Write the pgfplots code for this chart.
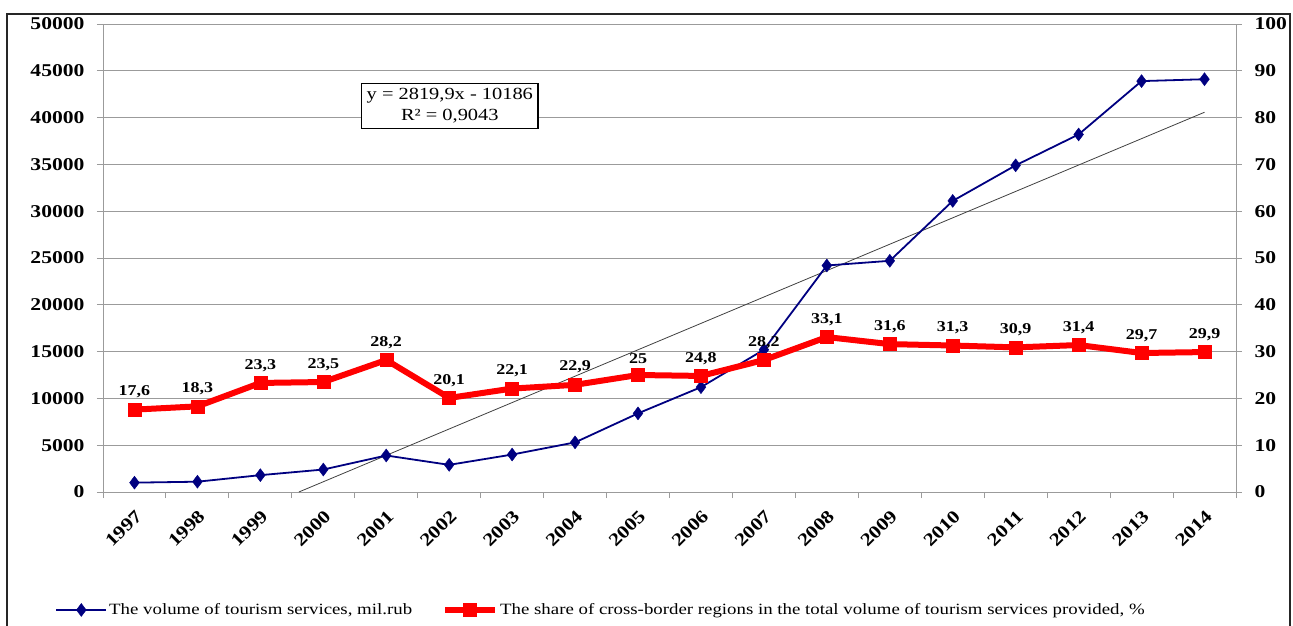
\documentclass[border=0pt]{standalone}
\usepackage{fontspec}
\setmainfont{Liberation Serif}[FakeStretch=1.2]
\usepackage{pgfplots}
\pgfplotsset{compat=1.18}
\usepackage{pgfplotstable}

\definecolor{navyb}{RGB}{0,0,128}
\definecolor{gridg}{RGB}{155,155,155}

\pgfplotstableread{
x y
0 1000
1 1100
2 1800
3 2400
4 3900
5 2900
6 4000
7 5300
8 8400
9 11200
10 15200
11 24200
12 24700
13 31100
14 34900
15 38200
16 43900
17 44100
}\volume

\pgfplotstableread{
x y lab
0 17.6 17,6
1 18.3 18,3
2 23.3 23,3
3 23.5 23,5
4 28.2 28,2
5 20.1 20,1
6 22.1 22,1
7 22.9 22,9
8 25 25
9 24.8 24,8
10 28.2 28,2
11 33.1 33,1
12 31.6 31,6
13 31.3 31,3
14 30.9 30,9
15 31.4 31,4
16 29.7 29,7
17 29.9 29,9
}\share

\pgfplotsset{
  base/.style={
    scale only axis, width=1133bp, height=468bp,
    xmin=-0.5, xmax=17.5,
    tick align=outside,
    major tick length=6bp, minor tick length=6bp,
    axis line style={gridg, line width=0.9bp},
    tick style={gridg, line width=0.9bp},
    /pgf/number format/assume math mode=true,
    scaled ticks=false,
    /pgf/number format/1000 sep={},
    yticklabel style={font=\fontsize{18bp}{20bp}\selectfont\bfseries},
  },
  legend image code/.code={%
    \draw[mark repeat=2,mark phase=2,#1] plot coordinates {(0bp,0bp) (25bp,0bp) (50bp,0bp)};},
}

\begin{document}
\begin{tikzpicture}
\path[use as bounding box] (-103bp,-134bp) rectangle (1190bp,492bp);
\draw[line width=2bp, black!85] (-96bp,-140bp) -- (-96bp,478bp) -- (1187bp,478bp) -- (1187bp,-140bp);

\begin{axis}[base,
  ymin=0, ymax=50000,
  ytick={0,5000,...,50000},
  ymajorgrids, grid style={gridg, line width=0.9bp},
  axis y line*=left, axis x line*=bottom,
  xtick={0,...,17},
  xticklabels={1997,1998,1999,2000,2001,2002,2003,2004,2005,2006,2007,2008,2009,2010,2011,2012,2013,2014},
  every major x tick/.append style={draw=none},
  minor xtick={-0.5,0.5,...,17.5},
  xticklabel style={font=\fontsize{18bp}{20bp}\selectfont\bfseries, xshift=0bp, yshift=-6bp, rotate=45, anchor=north east},
  yticklabel style={xshift=-9bp},
  clip=false,
]
\addplot[black!75, line width=0.8bp, no marks] coordinates {(2.612,0) (17,40572)};
\addplot[navyb, line width=1.8bp, mark=diamond*, mark size=6.5bp, mark options={solid, line width=0.4bp}] table[x=x,y=y] {\volume};
\node[draw=black, line width=1.3bp, fill=white, align=center, font=\fontsize{17bp}{21bp}\selectfont, inner xsep=5bp, inner ysep=5bp] at (axis cs:5.01,41239) {y = 2819,9x - 10186\\R² = 0,9043};
\end{axis}

\begin{axis}[base,
  ymin=0, ymax=100,
  ytick={0,10,...,100},
  axis y line*=right, axis x line=none,
  yticklabel style={xshift=9bp},
  clip=false,
  legend columns=2,
  legend style={draw=none, fill=none, at={(0.4396,-0.252)}, anchor=center,
    font=\fontsize{15.7bp}{17bp}\selectfont,
    /tikz/every even column/.append style={column sep=28bp}},
]
\addlegendimage{navyb, line width=1.8bp, mark=diamond*, mark size=6.5bp, mark options={solid, line width=0.4bp}}
\addlegendentry{The volume of tourism services, mil.rub}
\addplot[red, line width=6bp, mark=square*, mark size=6.5bp, mark options={solid, line width=0.4bp},
  nodes near coords, point meta=explicit symbolic,
  every node near coord/.append style={text=black, font=\fontsize{15bp}{17bp}\selectfont\bfseries, anchor=south, yshift=8bp}]
  table[x=x,y=y,meta=lab] {\share};
\addlegendentry{The share of cross-border regions in the total volume of tourism services provided, \%}
\end{axis}
\end{tikzpicture}
\end{document}
